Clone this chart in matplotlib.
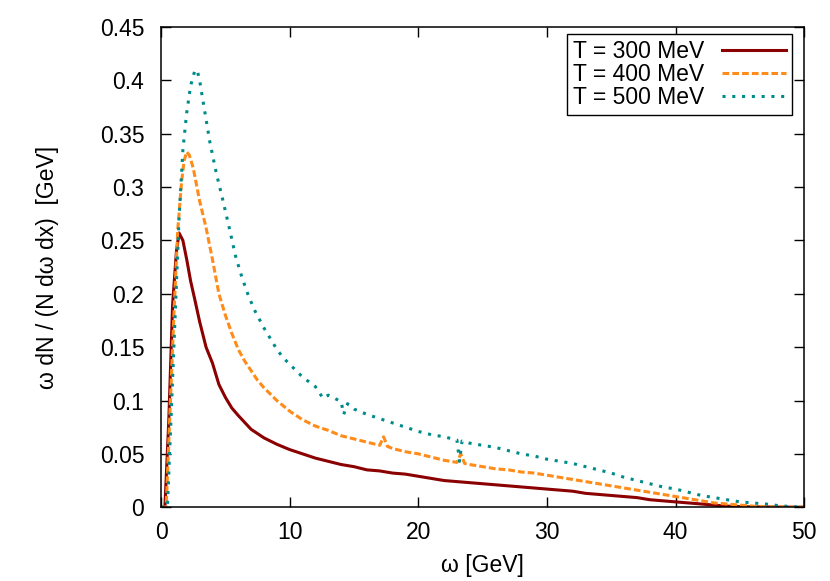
#!/usr/bin/env python
"""Gluon energy spectrum omega dN/(N domega dx) for three medium temperatures."""

import matplotlib

matplotlib.use("Agg")
import matplotlib.pyplot as plt  # noqa: E402

plt.rcParams["font.family"] = ["Liberation Sans", "DejaVu Sans"]
plt.rcParams["font.size"] = 16.5

# --- data (omega in GeV) ---
x_300 = [0, 0.3, 0.6, 0.9, 1.2, 1.4, 1.7, 2.0, 2.3, 2.6, 3.0, 3.5, 4.0, 4.5, 5.0,
         5.5, 6.0, 7.0, 8.0, 9.0, 10, 11, 12, 13, 14, 15, 16, 17, 18, 19, 20,
         21, 22, 23, 24, 25, 26, 27, 28, 29, 30, 31, 32, 33, 34, 35, 36, 37,
         38, 39, 40, 41, 42, 43, 44, 45, 46, 47, 48, 49, 50]
y_300 = [0, 0.0, 0.08, 0.19, 0.24, 0.257, 0.250, 0.232, 0.212, 0.196, 0.174,
         0.150, 0.135, 0.115, 0.103, 0.093, 0.086, 0.073, 0.065, 0.059, 0.054,
         0.050, 0.046, 0.043, 0.040, 0.038, 0.035, 0.034, 0.032, 0.031, 0.029,
         0.027, 0.025, 0.024, 0.023, 0.022, 0.021, 0.020, 0.019, 0.018, 0.017,
         0.016, 0.015, 0.013, 0.012, 0.011, 0.010, 0.009, 0.007, 0.006, 0.005,
         0.004, 0.003, 0.002, 0.001, 0.0005, 0.0003, 0.0002, 0.0001, 0, 0]

x_400 = [0, 0.4, 0.7, 1.0, 1.3, 1.6, 1.8, 2.0, 2.2, 2.5, 3.0, 3.5, 4.0, 4.5,
         5.0, 5.5, 6.0, 6.5, 7.0, 7.5, 8.0, 9.0, 10, 11, 12, 13, 14, 15, 16,
         17, 17.3, 17.6, 18, 19, 20, 21, 22, 23, 23.3, 23.6, 24, 25, 26, 27,
         28, 29, 30, 31, 32, 33, 34, 35, 36, 37, 38, 39, 40, 41, 42, 43, 44,
         45, 46, 47, 48, 49, 50]
y_400 = [0, 0.0, 0.09, 0.18, 0.26, 0.305, 0.325, 0.333, 0.330, 0.318, 0.287,
         0.262, 0.232, 0.200, 0.180, 0.163, 0.148, 0.137, 0.128, 0.119, 0.112,
         0.100, 0.090, 0.082, 0.076, 0.072, 0.067, 0.064, 0.061, 0.058, 0.066,
         0.057, 0.055, 0.052, 0.050, 0.047, 0.044, 0.042, 0.050, 0.041, 0.040,
         0.038, 0.036, 0.035, 0.033, 0.032, 0.030, 0.028, 0.026, 0.024, 0.022,
         0.020, 0.018, 0.016, 0.014, 0.012, 0.010, 0.008, 0.006, 0.004, 0.003,
         0.002, 0.001, 0.0005, 0.0003, 0.0001, 0]

x_500 = [0, 0.5, 0.8, 1.1, 1.4, 1.7, 2.0, 2.3, 2.6, 2.8, 3.0, 3.3, 3.8, 4.3,
         4.8, 5.3, 5.8, 6.3, 6.8, 7.3, 8.0, 8.5, 9.0, 9.5, 10, 11, 12, 12.6,
         13, 14, 14.2, 14.5, 15, 16, 17, 18, 19, 20, 21, 22, 23, 23.2, 23.4,
         24, 25, 26, 27, 28, 29, 30, 31, 32, 33, 34, 35, 36, 37, 38, 39, 40,
         41, 42, 43, 44, 45, 46, 47, 48, 49, 50]
y_500 = [0, 0.0, 0.09, 0.18, 0.27, 0.335, 0.370, 0.395, 0.408, 0.410, 0.400,
         0.378, 0.342, 0.313, 0.288, 0.262, 0.235, 0.215, 0.198, 0.184, 0.168,
         0.158, 0.148, 0.140, 0.134, 0.122, 0.113, 0.102, 0.105, 0.099, 0.087,
         0.097, 0.092, 0.087, 0.083, 0.079, 0.075, 0.071, 0.068, 0.066, 0.063,
         0.043, 0.062, 0.060, 0.058, 0.056, 0.053, 0.050, 0.048, 0.045, 0.043,
         0.041, 0.038, 0.035, 0.032, 0.028, 0.025, 0.022, 0.019, 0.017, 0.014,
         0.011, 0.009, 0.007, 0.005, 0.004, 0.003, 0.0015, 0.0005, 0]

labels = ["T = 300 MeV", "T = 400 MeV", "T = 500 MeV"]
colors = ["#8b0000", "#ff8c1a", "#008b8b"]


def main() -> None:
    fig = plt.figure(figsize=(8.3, 5.81), dpi=100)
    ax = fig.add_axes([0.194, 0.127, 0.775, 0.8265])

    ax.plot(x_300, y_300, color=colors[0], lw=2.2, label=labels[0])
    ax.plot(x_400, y_400, color=colors[1], lw=2.2, dashes=(2.2, 1.0),
            label=labels[1])
    ax.plot(x_500, y_500, color=colors[2], lw=2.2, dashes=(1.0, 2.2),
            label=labels[2])

    ax.set_xlim(0, 50)
    ax.set_ylim(0, 0.45)
    ax.set_xticks([0, 10, 20, 30, 40, 50])
    ax.set_yticks([0, 0.05, 0.1, 0.15, 0.2, 0.25, 0.3, 0.35, 0.4, 0.45])
    ax.set_yticklabels(["0", "0.05", "0.1", "0.15", "0.2", "0.25", "0.3",
                        "0.35", "0.4", "0.45"])
    ax.tick_params(direction="in", length=7, width=1, top=True, right=True)
    ax.tick_params(axis="x", pad=10)
    ax.tick_params(axis="y", pad=12)
    for s in ax.spines.values():
        s.set_linewidth(1.1)

    ax.set_xlabel("ω [GeV]", labelpad=7)
    ax.set_ylabel("ω dN / (N dω dx)  [GeV]", labelpad=29)

    leg = ax.legend(loc="upper right", bbox_to_anchor=(0.981, 0.985),
                    borderaxespad=0, markerfirst=False, handlelength=2.8,
                    labelspacing=0.0, fancybox=False, framealpha=1,
                    edgecolor="black", borderpad=0.25, handletextpad=0.8)
    leg.get_frame().set_linewidth(1.0)

    fig.savefig("out.png", dpi=100)
    plt.close(fig)


if __name__ == "__main__":
    main()
